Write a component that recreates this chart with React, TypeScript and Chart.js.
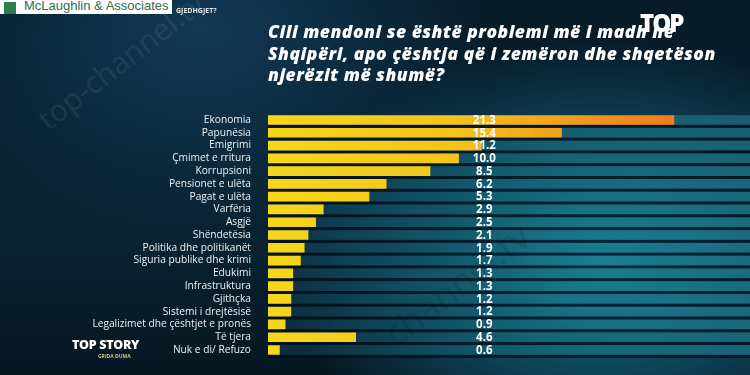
import React, { useEffect, useRef } from "react";
import { Chart, registerables } from "chart.js";

Chart.register(...registerables);

const categories = [
  "Ekonomia",
  "Papunësia",
  "Emigrimi",
  "Çmimet e rritura",
  "Korrupsioni",
  "Pensionet e ulëta",
  "Pagat e ulëta",
  "Varfëria",
  "Asgjë",
  "Shëndetësia",
  "Politika dhe politikanët",
  "Siguria publike dhe krimi",
  "Edukimi",
  "Infrastruktura",
  "Gjithçka",
  "Sistemi i drejtësisë",
  "Legalizimet dhe çështjet e pronës",
  "Të tjera",
  "Nuk e di/ Refuzo",
];
const values = [21.3, 15.4, 11.2, 10.0, 8.5, 6.2, 5.3, 2.9, 2.5, 2.1, 1.9, 1.7, 1.3, 1.3, 1.2, 1.2, 0.9, 4.6, 0.6];
const valueLabels = ["21.3", "15.4", "11.2", "10.0", "8.5", "6.2", "5.3", "2.9", "2.5", "2.1", "1.9", "1.7", "1.3", "1.3", "1.2", "1.2", "0.9", "4.6", "0.6"];
const titleLines = [
  "Cili mendoni se është problemi më i madh në",
  "Shqipëri, apo çështja që i zemëron dhe shqetëson",
  "njerëzit më shumë?",
];
const xMax = 24;
const labelColumnValue = 11.35;

const stripesPlugin = {
  id: "stripes",
  beforeDatasetsDraw(chart: any) {
    const { ctx, chartArea, scales } = chart;
    const y = scales.y;
    const n = categories.length;
    const step = (chartArea.bottom - chartArea.top) / n;
    ctx.save();
    for (let i = 0; i < n; i++) {
      const c = y.getPixelForValue(i);
      const g = ctx.createLinearGradient(chartArea.left, 0, chart.width, 0);
      g.addColorStop(0, "rgba(20,80,100,0.35)");
      g.addColorStop(0.6, "rgba(30,130,150,0.45)");
      g.addColorStop(1, "rgba(40,150,170,0.45)");
      ctx.fillStyle = g;
      ctx.fillRect(chartArea.left, c - step / 2 + 1.5, chart.width - chartArea.left, step - 3);
      ctx.fillStyle = "rgba(2,14,24,0.75)";
      ctx.fillRect(chartArea.left, c + step / 2 - 1.5, chart.width - chartArea.left, 3);
    }
    ctx.restore();
  },
  afterDatasetsDraw(chart: any) {
    const { ctx, scales } = chart;
    const x = scales.x.getPixelForValue(labelColumnValue);
    ctx.save();
    ctx.font = "bold 11.5px 'Open Sans', sans-serif";
    ctx.fillStyle = "#ffffff";
    ctx.textAlign = "center";
    ctx.textBaseline = "middle";
    valueLabels.forEach((t, i) => {
      ctx.fillText(t, x, scales.y.getPixelForValue(i) + 0.5);
    });
    ctx.restore();
  },
};

export default function App() {
  const ref = useRef<HTMLCanvasElement | null>(null);
  useEffect(() => {
    document.body.style.margin = "0";
    const canvas = ref.current!;
    const chart = new Chart(canvas, {
      type: "bar",
      data: {
        labels: categories,
        datasets: [
          {
            data: values,
            barThickness: 9,
            backgroundColor: (c: any) => {
              const ch = c.chart;
              const area = ch.chartArea;
              if (!area) return "#f4c020";
              const x0 = area.left;
              const x1 = ch.scales.x.getPixelForValue(values[0]);
              const g = ch.ctx.createLinearGradient(x0, 0, x1, 0);
              g.addColorStop(0, "#f7d61a");
              g.addColorStop(0.45, "#f5c41c");
              g.addColorStop(1, "#f07a1c");
              return g;
            },
            borderWidth: 0,
          },
        ],
      },
      options: {
        indexAxis: "y",
        animation: false,
        responsive: false,
        maintainAspectRatio: false,
        layout: { padding: { top: 113.6, bottom: 18.6, left: 0, right: 24.6 } },
        plugins: { legend: { display: false }, tooltip: { enabled: false } },
        scales: {
          x: { display: false, min: 0, max: xMax },
          y: {
            grid: { display: false },
            border: { display: false },
            afterFit: (s: any) => {
              s.width = 268;
            },
            ticks: {
              autoSkip: false,
              color: "#eef1f3",
              padding: 9,
              font: { family: "'Open Sans', sans-serif", size: 10.2 },
            },
          },
        },
      },
      plugins: [stripesPlugin],
    });
    return () => chart.destroy();
  }, []);

  return (
    <div
      style={{
        position: "relative",
        width: 750,
        height: 375,
        overflow: "hidden",
        background:
          "radial-gradient(ellipse 320px 220px at 600px 260px, #17788a 0%, #0e4a5e 45%, rgba(8,30,45,0) 100%), radial-gradient(ellipse 300px 200px at 200px 30px, #123a55 0%, rgba(8,30,45,0) 100%), linear-gradient(180deg, #071a28 0%, #0a2334 60%, #061722 100%)",
        fontFamily: "'Open Sans', sans-serif",
      }}
    >
      <canvas ref={ref} width={750} height={375} style={{ position: "absolute", left: 0, top: 0 }} />
      <div
        style={{
          position: "absolute",
          left: 0,
          top: -4,
          width: 172,
          height: 18,
          background: "#ffffff",
          display: "flex",
          alignItems: "flex-end",
          whiteSpace: "nowrap",
          overflow: "hidden",
        }}
      >
        <div style={{ width: 12, height: 12, background: "#2e7d4f", marginLeft: 4, marginRight: 8, flex: "none" }} />
        <span style={{ fontSize: 13, color: "#2d6e52", lineHeight: "16px", fontFamily: "'Liberation Sans', sans-serif" }}>
          McLaughlin &amp; Associates
        </span>
      </div>
      <div style={{ position: "absolute", left: 176, top: 6, fontSize: 7, fontWeight: 700, color: "#dfe6ea" }}>GJEDHGJET?</div>
      <div
        style={{
          position: "absolute",
          left: 268,
          top: 21,
          color: "#ffffff",
          fontWeight: 800,
          fontStyle: "italic",
          fontSize: 17.5,
          letterSpacing: 0.5,
          lineHeight: "21.5px",
          fontFamily: "'Open Sans', sans-serif",
          whiteSpace: "nowrap",
        }}
      >
        {titleLines.map((l, i) => (
          <div key={i}>{l}</div>
        ))}
      </div>
      <div
        style={{
          position: "absolute",
          left: 640,
          top: 6,
          color: "#ffffff",
          fontWeight: 900,
          fontSize: 24,
          letterSpacing: -2,
          fontFamily: "'Open Sans', sans-serif",
        }}
      >
        TOP
      </div>
      <div style={{ position: "absolute", left: 72, top: 336, color: "#ffffff", fontWeight: 800, fontSize: 12.5, letterSpacing: -0.3 }}>
        TOP STORY
      </div>
      <div style={{ position: "absolute", left: 98, top: 353, color: "#d9c38a", fontWeight: 700, fontSize: 5 }}>GRIDA DUMA</div>
      <div
        style={{
          position: "absolute",
          left: 20,
          top: 40,
          transform: "rotate(-38deg)",
          fontSize: 30,
          color: "rgba(255,255,255,0.07)",
          whiteSpace: "nowrap",
          pointerEvents: "none",
        }}
      >
        top-channel.tv
      </div>
      <div
        style={{
          position: "absolute",
          left: 370,
          top: 260,
          transform: "rotate(-38deg)",
          fontSize: 36,
          color: "rgba(0,0,0,0.12)",
          whiteSpace: "nowrap",
          pointerEvents: "none",
        }}
      >
        channel.tv
      </div>
    </div>
  );
}
